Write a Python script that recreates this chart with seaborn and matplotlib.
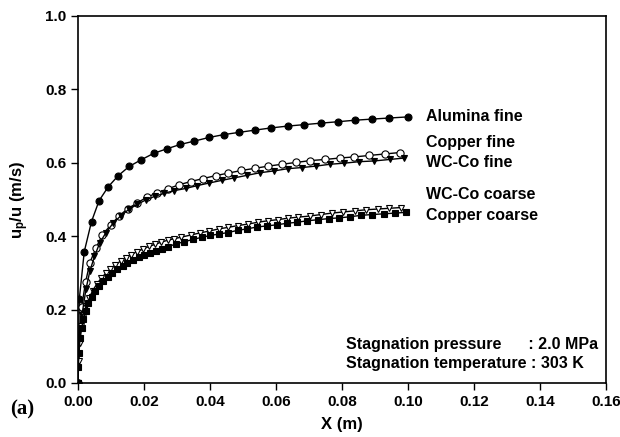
import matplotlib
matplotlib.use("Agg")
import matplotlib.pyplot as plt
import seaborn as sns
import pandas as pd

# Particle-to-gas velocity ratio along the nozzle axis
alumina_fine_x = [0.0, 0.0004, 0.0019, 0.0041, 0.0064, 0.0092, 0.0122, 0.0155, 0.0191,
                  0.0230, 0.0269, 0.0310, 0.0352, 0.0397, 0.0443, 0.0489, 0.0536, 0.0585,
                  0.0635, 0.0686, 0.0736, 0.0789, 0.0839, 0.0890, 0.0943, 0.0999]
alumina_fine_y = [0.0, 0.229, 0.358, 0.440, 0.497, 0.535, 0.565, 0.590, 0.608,
                  0.626, 0.638, 0.650, 0.659, 0.669, 0.677, 0.683, 0.689, 0.695,
                  0.700, 0.704, 0.708, 0.712, 0.716, 0.719, 0.722, 0.725]

copper_fine_x = [0.0, 0.0003, 0.0011, 0.0023, 0.0036, 0.0055, 0.0074, 0.0099, 0.0124,
                 0.0151, 0.0180, 0.0208, 0.0240, 0.0272, 0.0306, 0.0342, 0.0379, 0.0417,
                 0.0456, 0.0495, 0.0536, 0.0577, 0.0618, 0.0661, 0.0704, 0.0748, 0.0793,
                 0.0837, 0.0883, 0.0929, 0.0976]
copper_fine_y = [0.0, 0.123, 0.207, 0.275, 0.328, 0.369, 0.404, 0.430, 0.455,
                 0.475, 0.491, 0.506, 0.518, 0.529, 0.540, 0.549, 0.557, 0.565,
                 0.572, 0.579, 0.585, 0.591, 0.596, 0.601, 0.606, 0.609, 0.613,
                 0.616, 0.620, 0.624, 0.628]

wcco_fine_x = [0.0, 0.0003, 0.0012, 0.0024, 0.0036, 0.0050, 0.0066, 0.0085, 0.0106,
               0.0129, 0.0154, 0.0180, 0.0206, 0.0234, 0.0262, 0.0291, 0.0326, 0.0362,
               0.0398, 0.0435, 0.0474, 0.0513, 0.0552, 0.0595, 0.0636, 0.0678, 0.0721,
               0.0764, 0.0807, 0.0852, 0.0897, 0.0944, 0.0989]
wcco_fine_y = [0.0, 0.110, 0.185, 0.255, 0.305, 0.345, 0.382, 0.410, 0.435,
               0.455, 0.473, 0.487, 0.499, 0.509, 0.517, 0.524, 0.530, 0.538,
               0.545, 0.552, 0.559, 0.566, 0.573, 0.578, 0.584, 0.587, 0.591,
               0.596, 0.599, 0.603, 0.605, 0.609, 0.613]

wcco_coarse_x = [0.0, 0.0002, 0.0005, 0.0010, 0.0017, 0.0025, 0.0034, 0.0045, 0.0057,
                 0.0070, 0.0084, 0.0098, 0.0113, 0.0129, 0.0145, 0.0162, 0.0179, 0.0197,
                 0.0215, 0.0234, 0.0253, 0.0272, 0.0291, 0.0311, 0.0341, 0.0370, 0.0398,
                 0.0427, 0.0455, 0.0485, 0.0515, 0.0545, 0.0575, 0.0605, 0.0636, 0.0668,
                 0.0703, 0.0736, 0.0770, 0.0804, 0.0838, 0.0873, 0.0908, 0.0943, 0.0978]
wcco_coarse_y = [0.0, 0.060, 0.110, 0.155, 0.185, 0.210, 0.232, 0.252, 0.270,
                 0.285, 0.299, 0.311, 0.322, 0.332, 0.341, 0.350, 0.358, 0.365,
                 0.372, 0.378, 0.384, 0.389, 0.393, 0.397, 0.403, 0.409, 0.414,
                 0.420, 0.424, 0.429, 0.433, 0.438, 0.442, 0.445, 0.449, 0.452,
                 0.455, 0.459, 0.463, 0.466, 0.469, 0.472, 0.474, 0.476, 0.478]

copper_coarse_x = [0.0, 0.0001, 0.0003, 0.0006, 0.0011, 0.0016, 0.0023, 0.0031, 0.0041,
                   0.0052, 0.0064, 0.0077, 0.0090, 0.0104, 0.0119, 0.0135, 0.0150, 0.0167,
                   0.0184, 0.0201, 0.0218, 0.0236, 0.0254, 0.0272, 0.0297, 0.0322, 0.0348,
                   0.0375, 0.0401, 0.0428, 0.0455, 0.0484, 0.0513, 0.0542, 0.0572, 0.0602,
                   0.0632, 0.0664, 0.0695, 0.0728, 0.0760, 0.0792, 0.0825, 0.0859, 0.0892,
                   0.0927, 0.0962, 0.0995]
copper_coarse_y = [0.0, 0.044, 0.083, 0.122, 0.149, 0.173, 0.197, 0.217, 0.235,
                   0.251, 0.264, 0.278, 0.290, 0.301, 0.311, 0.320, 0.328, 0.335,
                   0.342, 0.349, 0.355, 0.360, 0.366, 0.371, 0.379, 0.385, 0.391,
                   0.397, 0.402, 0.406, 0.410, 0.416, 0.420, 0.425, 0.428, 0.431,
                   0.435, 0.438, 0.442, 0.445, 0.448, 0.450, 0.453, 0.457, 0.459,
                   0.461, 0.463, 0.465]

x_ticks = [0.00, 0.02, 0.04, 0.06, 0.08, 0.10, 0.12, 0.14, 0.16]
y_ticks = [0.0, 0.2, 0.4, 0.6, 0.8, 1.0]

sns.set_theme(style="ticks")
plt.rcParams["font.family"] = ["Liberation Sans", "DejaVu Sans"]
plt.rcParams["font.weight"] = "bold"
plt.rcParams["text.color"] = "black"
plt.rcParams["axes.labelcolor"] = "black"
plt.rcParams["mathtext.fontset"] = "custom"
plt.rcParams["mathtext.rm"] = "Liberation Sans:bold"
plt.rcParams["mathtext.bf"] = "Liberation Sans:bold"
plt.rcParams["mathtext.it"] = "Liberation Sans:bold"

fig = plt.figure(figsize=(6.2, 4.37), dpi=100)
ax = fig.add_axes([0.1258, 0.1236, 0.8516, 0.8398])

series = [
    (alumina_fine_x, alumina_fine_y, "o", "black", 5.0),
    (copper_fine_x, copper_fine_y, "o", "white", 5.2),
    (wcco_fine_x, wcco_fine_y, "v", "black", 5.0),
    (wcco_coarse_x, wcco_coarse_y, "v", "white", 5.0),
    (copper_coarse_x, copper_coarse_y, "s", "black", 4.2),
]
for xs, ys, mk, face, ms in series:
    df = pd.DataFrame({"x": xs, "y": ys})
    sns.lineplot(data=df, x="x", y="y", ax=ax, color="black", linewidth=1.0,
                 sort=False, estimator=None, marker=mk, markersize=ms,
                 markerfacecolor=face, markeredgecolor="black", markeredgewidth=0.8)

ax.set_xlim(0, 0.16)
ax.set_ylim(0, 1.0)
ax.set_xticks(x_ticks)
ax.set_xticklabels([f"{v:.2f}" for v in x_ticks])
ax.set_yticks(y_ticks)
ax.set_yticklabels([f"{v:.1f}" for v in y_ticks])
ax.tick_params(direction="out", length=5, width=1.0, labelsize=11, colors="black",
               top=False, right=False)
for lab in ax.get_xticklabels() + ax.get_yticklabels():
    lab.set_fontweight("bold")
for sp in ax.spines.values():
    sp.set_linewidth(1.2)
    sp.set_color("black")

ax.set_xlabel("X (m)", fontsize=12, fontweight="bold", labelpad=6)
ax.set_ylabel(r"u$_\mathregular{p}$/u (m/s)", fontsize=12, fontweight="bold", labelpad=10)

labels = [
    ("Alumina fine", 0.725),
    ("Copper fine", 0.656),
    ("WC-Co fine", 0.600),
    ("WC-Co coarse", 0.513),
    ("Copper coarse", 0.457),
]
for txt, yv in labels:
    ax.text(0.1055, yv, txt, fontsize=11.5, fontweight="bold", va="center", ha="left")

ax.text(0.0812, 0.106, "Stagnation pressure      : 2.0 MPa", fontsize=11.5,
        fontweight="bold", va="center", ha="left")
ax.text(0.0812, 0.052, "Stagnation temperature : 303 K", fontsize=11.5,
        fontweight="bold", va="center", ha="left")

fig.text(0.016, 0.062, "(a)", fontsize=15, fontweight="bold", family="Liberation Serif",
         va="center", ha="left")

fig.savefig("out.png", dpi=100)
